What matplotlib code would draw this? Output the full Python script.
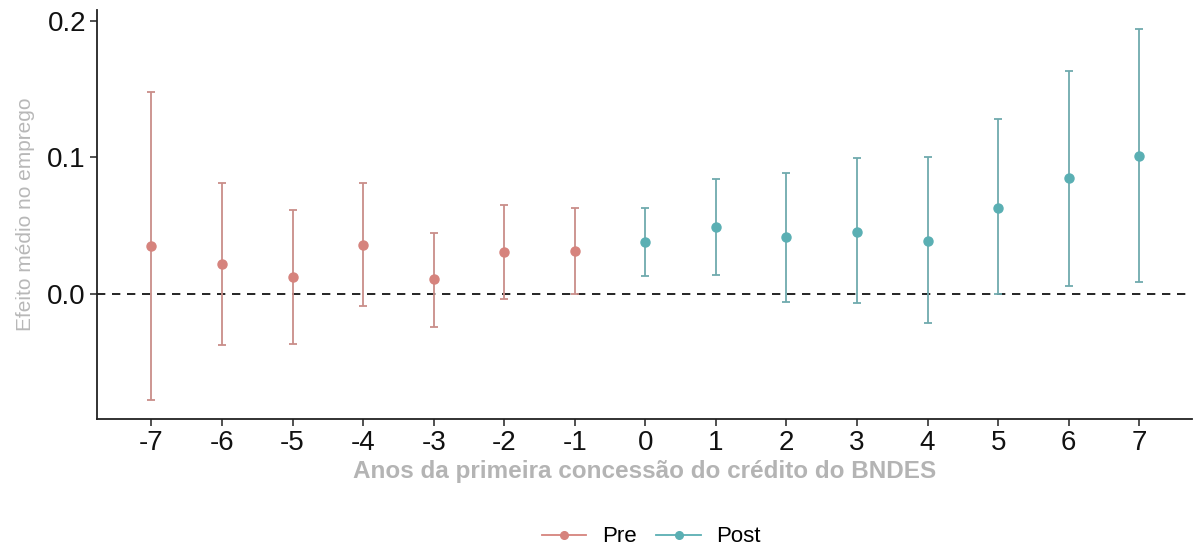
import matplotlib
matplotlib.use("Agg")
import matplotlib.pyplot as plt
from matplotlib.lines import Line2D

# Data
years_pre = [-7, -6, -5, -4, -3, -2, -1]
est_pre = [0.0352, 0.0220, 0.0125, 0.0359, 0.0110, 0.0304, 0.0315]
lo_pre = [-0.0777, -0.0374, -0.0366, -0.0088, -0.0242, -0.0035, 0.0000]
hi_pre = [0.1480, 0.0810, 0.0615, 0.0810, 0.0447, 0.0654, 0.0630]

years_post = [0, 1, 2, 3, 4, 5, 6, 7]
est_post = [0.0381, 0.0489, 0.0418, 0.0454, 0.0388, 0.0630, 0.0850, 0.1011]
lo_post = [0.0130, 0.0138, -0.0059, -0.0066, -0.0212, 0.0000, 0.0059, 0.0088]
hi_post = [0.0630, 0.0840, 0.0886, 0.0996, 0.1004, 0.1282, 0.1634, 0.1941]

xticks = list(range(-7, 8))
yticks = [0.0, 0.1, 0.2]
ytick_labels = ["0.0", "0.1", "0.2"]

pre_color = "#D6837D"
pre_err = "#C98E89"
post_color = "#5AAFB3"
post_err = "#6FAAAE"

plt.rcParams['font.family'] = ['Liberation Sans', 'DejaVu Sans']

fig = plt.figure(figsize=(11.95, 5.49), dpi=100)
ax = fig.add_axes([0.0812, 0.2368, 0.9165, 0.745])

def draw(xs, est, lo, hi, c, ec):
    yerr = [[e - l for e, l in zip(est, lo)], [h - e for e, h in zip(est, hi)]]
    ax.errorbar(xs, est, yerr=yerr, fmt='none', ecolor=ec, elinewidth=1.3,
                capsize=3, capthick=1.3, zorder=2)
    ax.plot(xs, est, 'o', color=c, markersize=6.5, zorder=3)

ax.axhline(0, color='black', linestyle=(0, (5, 4)), linewidth=1.2, zorder=1)
draw(years_pre, est_pre, lo_pre, hi_pre, pre_color, pre_err)
draw(years_post, est_post, lo_post, hi_post, post_color, post_err)

ax.set_xlim(-7.77, 7.75)
ax.set_ylim(-0.0916, 0.208)
ax.set_xticks(xticks)
ax.set_xticklabels([str(v) for v in xticks])
ax.set_yticks(yticks)
ax.set_yticklabels(ytick_labels)

for s in ['top', 'right']:
    ax.spines[s].set_visible(False)
for s in ['left', 'bottom']:
    ax.spines[s].set_linewidth(1.3)
    ax.spines[s].set_color('#222222')
ax.tick_params(axis='both', length=5, width=1.2, color='#333333',
               labelsize=20, labelcolor='#111111', pad=3)

ax.set_xlabel("Anos da primeira concessão do crédito do BNDES",
              color='#B4B4B4', fontsize=17.5, fontweight='bold', labelpad=3)
ax.set_ylabel("Efeito médio no emprego", color='#B8B8B8', fontsize=15,
              labelpad=9)

handles = [
    Line2D([0], [0], color=pre_color, marker='o', markersize=5.5, linewidth=1.3),
    Line2D([0], [0], color=post_color, marker='o', markersize=5.5, linewidth=1.3),
]
fig.legend(handles, ["Pre", "Post"], loc='center', ncol=2,
           bbox_to_anchor=(0.545, 0.022), frameon=False, fontsize=16,
           handlelength=2.0, columnspacing=0.9, handletextpad=0.7)

fig.savefig("out.png", dpi=100)
